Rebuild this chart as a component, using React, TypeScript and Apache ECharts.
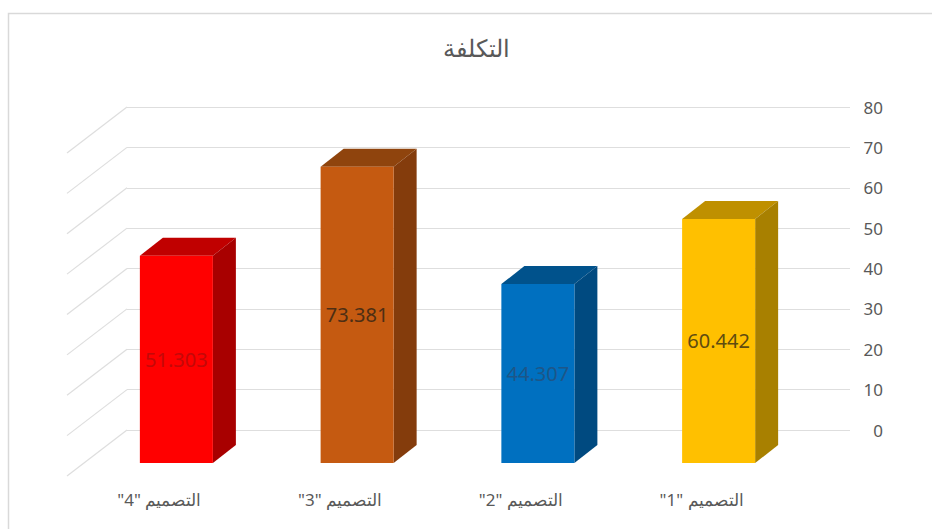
import React, { useEffect, useRef } from "react";
import * as echarts from "echarts";

const title = "التكلفة";
const categories = ['التصميم "1"', 'التصميم "2"', 'التصميم "3"', 'التصميم "4"'];
const costs = [60.442, 44.307, 73.381, 51.303];
const tickValues = [0, 10, 20, 30, 40, 50, 60, 70, 80];
const frontColors = ["#ffc000", "#0070c0", "#c55a11", "#ff0000"];
const sideColors = ["#a88000", "#004a80", "#843c0c", "#a80000"];
const topColors = ["#bf9000", "#00528c", "#8f440d", "#c00000"];
const labelColors = ["#5f4c10", "#1d5688", "#4d2e14", "#c40808"];

export default function App() {
  const ref = useRef<HTMLDivElement>(null);
  useEffect(() => {
    const chart = echarts.init(ref.current!, undefined, { renderer: "svg" });
    chart.setOption({
      animation: false,
      backgroundColor: "#ffffff",
      title: {
        text: title,
        left: 471,
        top: 30,
        textAlign: "center",
        textStyle: { fontFamily: "Noto Sans", fontSize: 24, fontWeight: "normal", color: "#595959" },
      },
      graphic: [
        {
          type: "rect",
          silent: true,
          z: -1,
          shape: { x: 8.5, y: 13.5, width: 1000, height: 1000 },
          style: { fill: "none", stroke: "#d9d9d9", lineWidth: 1.5 },
        },
      ],
      grid: { left: 127, right: 82, top: 107, bottom: 99 },
      xAxis: {
        type: "category",
        data: categories,
        inverse: true,
        axisLine: { show: false },
        axisTick: { show: false },
        splitLine: { show: false },
        axisLabel: {
          margin: 61,
          padding: [0, 116, 0, 0],
          fontFamily: "Noto Sans",
          fontSize: 17,
          color: "#595959",
          interval: 0,
        },
      },
      yAxis: {
        type: "value",
        position: "right",
        min: 0,
        max: 80,
        interval: 10,
        axisLine: { show: false },
        axisTick: { show: false },
        splitLine: { show: true, lineStyle: { color: "#dedede", width: 1.2 } },
        axisLabel: {
          margin: 33,
          align: "left",
          fontFamily: "Noto Sans",
          fontSize: 17,
          color: "#595959",
        },
      },
      series: [
        {
          type: "custom",
          silent: true,
          z: 1,
          data: tickValues,
          encode: { y: 0 },
          renderItem: (params: any, api: any) => {
            const left = params.coordSys.x;
            const y = api.coord([0, api.value(0)])[1];
            return {
              type: "line",
              shape: { x1: left, y1: y, x2: left - 60, y2: y + 46 },
              style: { stroke: "#dedede", lineWidth: 1.2, fill: "none" },
            };
          },
        },
        {
          type: "custom",
          silent: true,
          z: 2,
          data: costs.map((v, i) => [i, v]),
          encode: { x: 0, y: 1 },
          renderItem: (params: any, api: any) => {
            const i = params.dataIndex;
            const value = api.value(1);
            const top = api.coord([i, value]);
            const base = api.coord([i, 0]);
            const band = api.size([1, 0])[0];
            const w = band * 0.404;
            const fx = top[0] - 41 - w / 2;
            const fr = fx + w;
            const dy = 33;
            const fTop = top[1] + dy;
            const fBase = base[1] + dy;
            const dX = 23;
            const dY = 18;
            return {
              type: "group",
              children: [
                {
                  type: "polygon",
                  shape: { points: [[fx, fTop], [fx + dX, fTop - dY], [fr + dX, fTop - dY], [fr, fTop]] },
                  style: { fill: topColors[i] },
                },
                {
                  type: "polygon",
                  shape: { points: [[fr, fTop], [fr + dX, fTop - dY], [fr + dX, fBase - dY], [fr, fBase]] },
                  style: { fill: sideColors[i] },
                },
                {
                  type: "rect",
                  shape: { x: fx, y: fTop, width: w, height: fBase - fTop },
                  style: { fill: frontColors[i] },
                },
                {
                  type: "text",
                  x: fx + w / 2,
                  y: (fTop + fBase) / 2,
                  style: {
                    text: String(value),
                    fill: labelColors[i],
                    fontFamily: "Noto Sans",
                    fontSize: 20,
                    align: "center",
                    verticalAlign: "middle",
                  },
                },
              ],
            };
          },
        },
      ],
    });
    return () => chart.dispose();
  }, []);
  return <div ref={ref} dir="rtl" style={{ position: "fixed", left: 0, top: 0, width: 932, height: 529 }} />;
}
